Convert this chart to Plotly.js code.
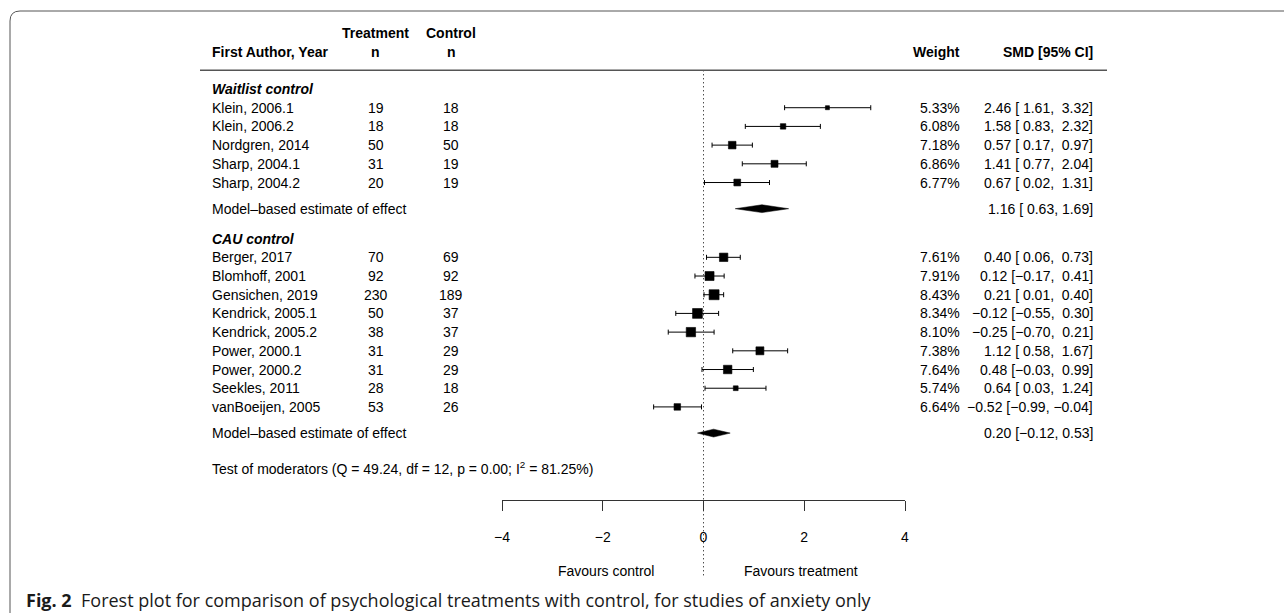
<!DOCTYPE html>
<html><head><meta charset="utf-8">
<script src="https://cdn.plot.ly/plotly-3.0.1.min.js"></script>
<style>html,body{margin:0;padding:0;background:#fff}</style>
</head><body><div id="chart" style="width:1284px;height:613px"></div>
<script>
// ---------------- data ----------------
const groupNames = ["Waitlist control", "CAU control"];

const group1Studies = ["Klein, 2006.1", "Klein, 2006.2", "Nordgren, 2014", "Sharp, 2004.1", "Sharp, 2004.2"];
const group1TreatN = [19, 18, 50, 31, 20];
const group1ControlN = [18, 18, 50, 19, 19];
const group1Weight = [5.33, 6.08, 7.18, 6.86, 6.77];
const group1SMD = [2.46, 1.58, 0.57, 1.41, 0.67];
const group1Lower = [1.61, 0.83, 0.17, 0.77, 0.02];
const group1Upper = [3.32, 2.32, 0.97, 2.04, 1.31];
const group1Summary = [1.16, 0.63, 1.69];   // estimate, lower, upper

const group2Studies = ["Berger, 2017", "Blomhoff, 2001", "Gensichen, 2019", "Kendrick, 2005.1", "Kendrick, 2005.2",
  "Power, 2000.1", "Power, 2000.2", "Seekles, 2011", "vanBoeijen, 2005"];
const group2TreatN = [70, 92, 230, 50, 38, 31, 31, 28, 53];
const group2ControlN = [69, 92, 189, 37, 37, 29, 29, 18, 26];
const group2Weight = [7.61, 7.91, 8.43, 8.34, 8.10, 7.38, 7.64, 5.74, 6.64];
const group2SMD = [0.40, 0.12, 0.21, -0.12, -0.25, 1.12, 0.48, 0.64, -0.52];
const group2Lower = [0.06, -0.17, 0.01, -0.55, -0.70, 0.58, -0.03, 0.03, -0.99];
const group2Upper = [0.73, 0.41, 0.40, 0.30, 0.21, 1.67, 0.99, 1.24, -0.04];
const group2Summary = [0.20, -0.12, 0.53];

const moderatorQ = 49.24, moderatorDf = 12, moderatorP = 0.00, iSquared = 81.25;
const xTickVals = [-4, -2, 0, 2, 4];
const sideLabels = ["Favours control", "Favours treatment"];
const captionBold = "Fig. 2";
const captionText = "Forest plot for comparison of psychological treatments with control, for studies of anxiety only";

// ---------------- layout helpers ----------------
const W = 1284, H = 613;
const FONT = "Liberation Sans, Arial, Helvetica, sans-serif";
const NB = "\u00A0";
const MINUS = "\u2212";
const Y_BOTTOM = 27.02, Y_TOP = -5.76;          // row-unit y axis (reversed)
const rowToPaper = r => (Y_BOTTOM - r) / (Y_BOTTOM - Y_TOP);
const COL = {label: 211, trt: 375.5, ctl: 451, weight: 961, smd: 1094};

// rows
const g1Rows = group1Studies.map((_, i) => i);
const g1SumRow = g1Rows[g1Rows.length - 1] + 1.4;
const g2HeadRow = g1SumRow + 1.6;
const g1HeadRow = -1;
const g2Rows = group2Studies.map((_, i) => g2HeadRow + 1 + i);
const g2SumRow = g2Rows[g2Rows.length - 1] + 1.4;
const testRow = g2SumRow + 1.85;
const axisRow = testRow + 1.75;
const sideRow = axisRow + 3.8;
const captionRow = 26.33;
const ruleRow = -2;

function fmt(v) { const s = Math.abs(v).toFixed(2); return v < 0 ? MINUS + s : s; }
function ciText(e, lo, hi, pad) {
  const loS = (lo < 0 ? "" : NB) + fmt(lo);
  const hiS = pad ? (hi < 0 ? NB + fmt(hi) : NB + NB + fmt(hi)) : NB + fmt(hi);
  return fmt(e) + NB + "[" + loS + "," + hiS + "]";
}
const allW = group1Weight.concat(group2Weight);
const wMin = Math.min(...allW), wMax = Math.max(...allW);
const sizeOf = w => 4 + (w - wMin) / (wMax - wMin) * 6;

const annotations = [];
function txt(px, row, text, anchor, extra) {
  annotations.push(Object.assign({
    xref: 'paper', yref: 'y', x: px / W, y: row, text: text, xanchor: anchor, yanchor: 'middle',
    showarrow: false, borderpad: 0, font: {family: FONT, size: 14, color: '#000'}
  }, extra || {}));
}

// header
txt(COL.trt, -4, "<b>Treatment</b>", 'center');
txt(COL.trt, -3, "<b>n</b>", 'center');
txt(COL.ctl, -4, "<b>Control</b>", 'center');
txt(COL.ctl, -3, "<b>n</b>", 'center');
txt(COL.label, -3, "<b>First Author, Year</b>", 'left');
txt(COL.weight, -3, "<b>Weight</b>", 'right');
txt(COL.smd, -3, "<b>SMD [95% CI]</b>", 'right');

const traces = [];
// reference line at 0
traces.push({x: [0, 0], y: [ruleRow, sideRow + 0.3], mode: 'lines', line: {color: '#000', width: 1, dash: '1px,3px'}, hoverinfo: 'skip'});

function addGroup(name, headRow, rows, studies, tn, cn, w, est, lo, hi, sum, sumRow) {
  txt(COL.label, headRow, "<b><i>" + name + "</i></b>", 'left');
  studies.forEach((s, i) => {
    txt(COL.label, rows[i], s, 'left');
    txt(COL.trt, rows[i], String(tn[i]), 'center');
    txt(COL.ctl, rows[i], String(cn[i]), 'center');
    txt(COL.weight, rows[i], w[i].toFixed(2) + "%", 'right');
    txt(COL.smd, rows[i], ciText(est[i], lo[i], hi[i], true), 'right');
  });
  traces.push({
    x: est, y: rows, mode: 'markers', type: 'scatter', hoverinfo: 'skip',
    marker: {symbol: 'square', color: '#000', opacity: 1, size: w.map(sizeOf), line: {width: 0.6, color: '#000'}},
    error_x: {type: 'data', symmetric: false, array: hi.map((h, i) => h - est[i]),
      arrayminus: lo.map((l, i) => est[i] - l), color: '#000', thickness: 1, width: 2.5}
  });
  const dh = 0.21;
  traces.push({
    x: [sum[1], sum[0], sum[2], sum[0], sum[1]], y: [sumRow, sumRow - dh, sumRow, sumRow + dh, sumRow],
    mode: 'lines', fill: 'toself', fillcolor: '#000', line: {color: '#000', width: 0.5}, hoverinfo: 'skip'
  });
  txt(COL.label, sumRow, "Model\u2013based estimate of effect", 'left');
  txt(COL.smd, sumRow, ciText(sum[0], sum[1], sum[2], false), 'right');
}
addGroup(groupNames[0], g1HeadRow, g1Rows, group1Studies, group1TreatN, group1ControlN, group1Weight,
  group1SMD, group1Lower, group1Upper, group1Summary, g1SumRow);
addGroup(groupNames[1], g2HeadRow, g2Rows, group2Studies, group2TreatN, group2ControlN, group2Weight,
  group2SMD, group2Lower, group2Upper, group2Summary, g2SumRow);

txt(COL.label, testRow, "Test of moderators (Q = " + moderatorQ.toFixed(2) + ", df = " + moderatorDf +
  ", p = " + moderatorP.toFixed(2) + "; I<sup>2</sup> = " + iSquared.toFixed(2) + "%)", 'left');

// side labels (in data units of the effect axis)
annotations.push({xref: 'x', yref: 'y', x: -1.94, y: sideRow, text: sideLabels[0], showarrow: false,
  xanchor: 'center', yanchor: 'middle', borderpad: 0, font: {family: FONT, size: 14, color: '#000'}});
annotations.push({xref: 'x', yref: 'y', x: 1.94, y: sideRow, text: sideLabels[1], showarrow: false,
  xanchor: 'center', yanchor: 'middle', borderpad: 0, font: {family: FONT, size: 14, color: '#000'}});

// caption
txt(25, captionRow, "<b>" + captionBold + "</b>" + NB + NB + captionText, 'left',
  {font: {family: "Open Sans, Noto Sans, sans-serif", size: 18, color: '#1a1a1a'}});

// shapes: frame and header rule
const px2x = p => p / W, py2y = p => 1 - p / H;
const shapes = [
  {type: 'path', xref: 'paper', yref: 'paper',
   path: `M ${px2x(10)},${py2y(H + 10)} L ${px2x(10)},${py2y(21)} Q ${px2x(10)},${py2y(11)} ${px2x(20)},${py2y(11)} L ${px2x(W + 10)},${py2y(11)}`,
   line: {color: '#555', width: 1}},
  {type: 'line', xref: 'paper', yref: 'paper', x0: px2x(200), x1: px2x(1107), y0: rowToPaper(ruleRow), y1: rowToPaper(ruleRow),
   line: {color: '#555', width: 1.5}}
];

const layout = {
  width: W, height: H, margin: {l: 0, r: 0, t: 0, b: 0},
  paper_bgcolor: '#fff', plot_bgcolor: 'rgba(0,0,0,0)', showlegend: false,
  xaxis: {domain: [502 / W, 905 / W], range: [-4, 4], anchor: 'free', position: rowToPaper(axisRow),
    showline: true, linecolor: '#333', linewidth: 1, ticks: 'outside', ticklen: 10, tickwidth: 1, tickcolor: '#333',
    tickvals: xTickVals, showgrid: false, zeroline: false, fixedrange: true, ticklabelstandoff: 14,
    tickfont: {family: FONT, size: 14, color: '#000'}},
  yaxis: {domain: [0, 1], range: [Y_BOTTOM, Y_TOP], visible: false, fixedrange: true},
  annotations: annotations, shapes: shapes
};
Plotly.newPlot('chart', traces, layout, {staticPlot: true, displayModeBar: false});
</script></body></html>
